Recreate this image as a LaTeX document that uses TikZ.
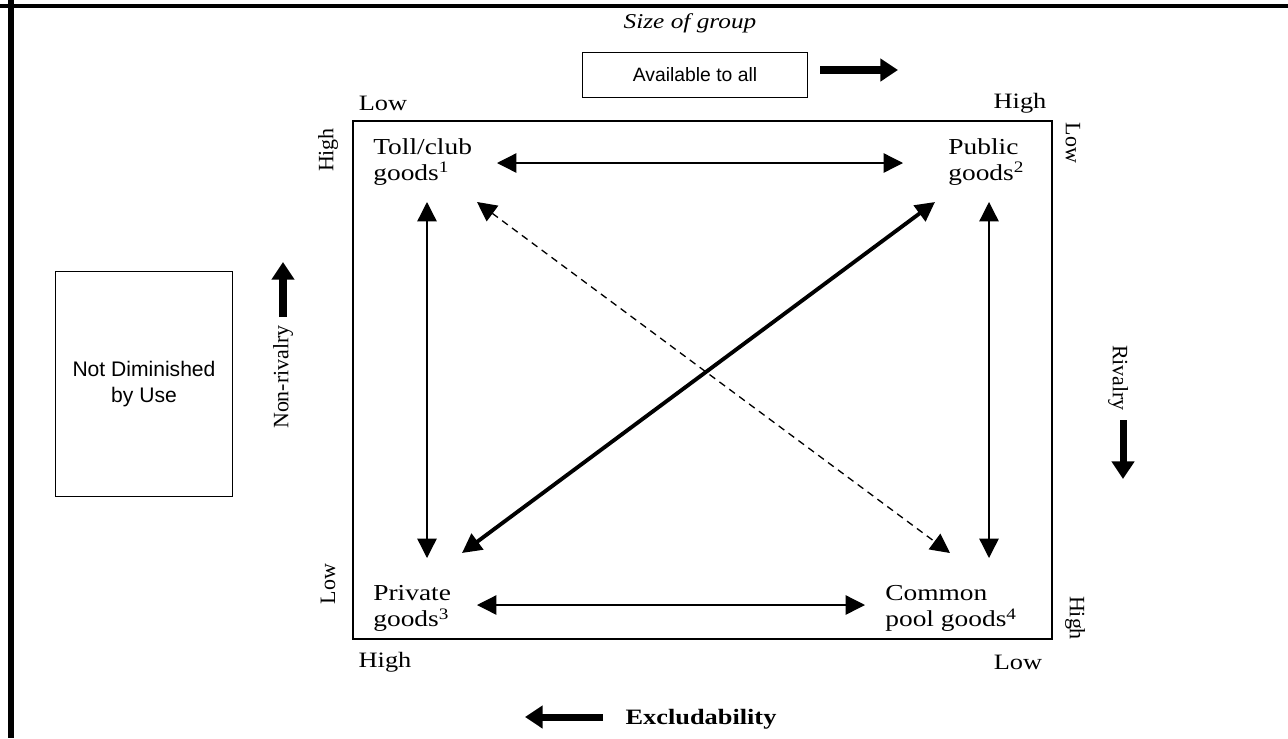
\documentclass[tikz,border=0pt]{standalone}
\usepackage{fontspec}
\setmainfont[FakeStretch=1.2]{Liberation Serif}
\newfontfamily\plainserif{Liberation Serif}
\setsansfont{Liberation Sans}
\usetikzlibrary{arrows.meta}

\tikzset{
	goodlbl/.style={anchor=north west, align=left, inner sep=0pt, font=\fontsize{13}{15}\selectfont},
	axislbl/.style={inner sep=0pt, font=\fontsize{12.5}{15}\selectfont},
	sidelbl/.style={inner sep=0pt, font=\plainserif\fontsize{12.5}{15}\selectfont},
	notebox/.style={draw, line width=0.9pt, align=center, font=\sffamily\fontsize{11}{13.5}\selectfont},
	link/.style={{Triangle[length=11pt,width=11pt]}-{Triangle[length=11pt,width=11pt]}, line width=0.75pt},
	bigarrow/.style={-{Triangle[length=10pt,width=12.5pt]}, line width=4pt},
}

\begin{document}
\begin{tikzpicture}[x=0.02cm, y=-0.02cm]
	\useasboundingbox (0,0) rectangle (1288,738);
	\def\sqL{353}
	\def\sqR{1052}
	\def\sqT{121}
	\def\sqB{639}

	% --- frame (top and left edge only) ---
	\draw[line width=2.3pt] (0,6) -- (1288,6);
	\draw[line width=3.4pt] (11,0) -- (11,738);

	% --- matrix square ---
	\draw[line width=0.85pt] (\sqL,\sqT) rectangle (\sqR,\sqB);

	% --- corner goods ---
	\node[goodlbl] (toll) at (373,138) {Toll/club\\goods\textsuperscript{1}};
	\node[goodlbl] (public) at (948,138) {Public\\goods\textsuperscript{2}};
	\node[goodlbl] (private) at (373,585) {Private\\goods\textsuperscript{3}};
	\node[goodlbl] (common) at (885,585) {Common\\pool goods\textsuperscript{4}};

	% --- axis ends ---
	\node[axislbl] (toplow) at (383,103) {Low};
	\node[axislbl] (tophigh) at (1020,103) {High};
	\node[axislbl] (bothigh) at (385,662) {High};
	\node[axislbl] (botlow) at (1018,662) {Low};
	\node[sidelbl, rotate=90] (lefthigh) at (328,150) {High};
	\node[sidelbl, rotate=90] (leftlow) at (328,584) {Low};
	\node[sidelbl, rotate=-90] (rightlow) at (1073,143) {Low};
	\node[sidelbl, rotate=-90] (righthigh) at (1075,618) {High};

	% --- arrow ends ---
	\coordinate (toll-e) at (497,163);
	\coordinate (public-w) at (903,163);
	\coordinate (private-e) at (477,605);
	\coordinate (common-w) at (865,605);
	\coordinate (toll-s) at (427,202);
	\coordinate (private-n) at (427,558);
	\coordinate (public-s) at (989,202);
	\coordinate (common-n) at (989,558);
	\coordinate (private-ne) at (462,553);
	\coordinate (public-sw) at (935,202);
	\coordinate (toll-se) at (477,202);
	\coordinate (common-nw) at (950,553);

	\draw[link] (toll-e) -- (public-w);
	\draw[link] (private-e) -- (common-w);
	\draw[link] (toll-s) -- (private-n);
	\draw[link] (public-s) -- (common-n);
	\draw[link, line width=2.2pt] (private-ne) -- (public-sw);
	\draw[link, dash pattern=on 4pt off 3pt] (toll-se) -- (common-nw);

	% --- size of group ---
	\node[font=\itshape\fontsize{12}{14}\selectfont, inner sep=0pt] (sizegrp) at (690,23) {Size of group};
	\node[notebox, minimum width=225*0.02cm, minimum height=45*0.02cm] (avail) at (695,75) {Available to all};
	\coordinate (size-a) at (820,70);
	\coordinate (size-b) at (898,70);
	\draw[bigarrow] (size-a) -- (size-b);

	% --- rivalry ---
	\node[notebox, minimum width=177*0.02cm, minimum height=225*0.02cm,
		font=\sffamily\fontsize{12}{14.5}\selectfont] (notdim) at (144,384) {Not Diminished\\by Use};
	\node[sidelbl, rotate=90] (nonriv) at (283,377) {Non-rivalry};
	\coordinate (nonriv-a) at (283,317);
	\coordinate (nonriv-b) at (283,262);
	\draw[bigarrow] (nonriv-a) -- (nonriv-b);

	\node[sidelbl, rotate=-90] (riv) at (1118,378) {Rivalry};
	\coordinate (riv-a) at (1123,420);
	\coordinate (riv-b) at (1123,479);
	\draw[bigarrow] (riv-a) -- (riv-b);

	% --- excludability ---
	\node[axislbl, font=\bfseries\fontsize{12.5}{15}\selectfont] (excl) at (701,719) {Excludability};
	\coordinate (excl-a) at (603,717);
	\coordinate (excl-b) at (525,717);
	\draw[bigarrow] (excl-a) -- (excl-b);
\end{tikzpicture}
\end{document}
